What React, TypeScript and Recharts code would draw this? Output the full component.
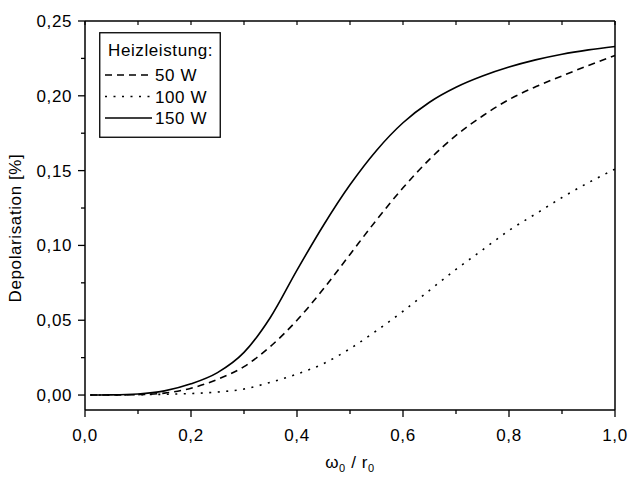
import { LineChart, Line, XAxis, YAxis, Legend } from 'recharts'

const xValues = [0.01, 0.05, 0.1, 0.15, 0.2, 0.25, 0.3, 0.35, 0.4, 0.45, 0.5, 0.55, 0.6, 0.65, 0.7, 0.75, 0.8, 0.85, 0.9, 0.95, 1.0]
const power50 = [0, 0, 0.0003, 0.0013, 0.0045, 0.0105, 0.019, 0.0325, 0.05, 0.071, 0.094, 0.117, 0.1385, 0.1575, 0.1735, 0.1865, 0.1975, 0.206, 0.2133, 0.2203, 0.227]
const power100 = [0, 0, 0.0002, 0.0005, 0.001, 0.002, 0.004, 0.0085, 0.014, 0.021, 0.031, 0.043, 0.056, 0.07, 0.084, 0.097, 0.11, 0.121, 0.132, 0.142, 0.151]
const power150 = [0, 0.0001, 0.0007, 0.0028, 0.0075, 0.015, 0.0285, 0.052, 0.0835, 0.1135, 0.1405, 0.1635, 0.182, 0.1957, 0.2057, 0.2132, 0.2192, 0.224, 0.2278, 0.2307, 0.233]

const xTicks = [0, 0.1, 0.2, 0.3, 0.4, 0.5, 0.6, 0.7, 0.8, 0.9, 1.0]
const yTicks = [0, 0.025, 0.05, 0.075, 0.1, 0.125, 0.15, 0.175, 0.2, 0.225, 0.25]

const legendTitle = 'Heizleistung:'
const series = [
  { key: 'w50', name: '50 W', dash: '7 5' },
  { key: 'w100', name: '100 W', dash: '2 6.5' },
  { key: 'w150', name: '150 W', dash: undefined as string | undefined },
]

const data = xValues.map((x, i) => ({ x, w50: power50[i], w100: power100[i], w150: power150[i] }))

const FONT = '"Liberation Sans", Arial, sans-serif'
const textStyle = { fontFamily: FONT, fontSize: 17, letterSpacing: 0.6, fill: '#000' }

const isMajorX = (v: number) => Math.round(v * 10) % 2 === 0
const isMajorY = (v: number) => Math.round(v * 1000) % 50 === 0

function BottomTick(props: any) {
  const { x, y, payload } = props
  const major = isMajorX(payload.value)
  return (
    <g>
      <line x1={x} x2={x} y1={y} y2={y + (major ? 7 : 4)} stroke="#000" strokeWidth={1.3} />
      {major && (
        <text x={x} y={y + 31} textAnchor="middle" style={textStyle}>
          {payload.value.toFixed(1).replace('.', ',')}
        </text>
      )}
    </g>
  )
}

function TopTick(props: any) {
  const { x, y } = props
  return <line x1={x} x2={x} y1={y} y2={y + 4} stroke="#000" strokeWidth={1.2} />
}

function LeftTick(props: any) {
  const { x, y, payload } = props
  const major = isMajorY(payload.value)
  return (
    <g>
      <line x1={x} x2={x - (major ? 7 : 4)} y1={y} y2={y} stroke="#000" strokeWidth={1.3} />
      {major && (
        <text x={x - 13} y={y + 6} textAnchor="end" style={textStyle}>
          {payload.value.toFixed(2).replace('.', ',')}
        </text>
      )}
    </g>
  )
}

function RightTick(props: any) {
  const { x, y } = props
  return <line x1={x} x2={x - 4} y1={y} y2={y} stroke="#000" strokeWidth={1.2} />
}

function LegendBox() {
  return (
    <svg width={123} height={107} style={{ display: 'block' }}>
      <rect x={0.75} y={0.75} width={120.5} height={104.5} fill="#fff" stroke="#000" strokeWidth={1.3} />
      <text x={9} y={24} style={textStyle}>{legendTitle}</text>
      {series.map((s, i) => {
        const cy = 43 + i * 21.5
        return (
          <g key={s.key}>
            <line x1={6} x2={53} y1={cy} y2={cy} stroke="#000" strokeWidth={1.5} strokeDasharray={s.dash} />
            <text x={56} y={cy + 6} style={textStyle}>{s.name}</text>
          </g>
        )
      })}
    </svg>
  )
}

export default function App() {
  return (
    <div style={{ position: 'absolute', left: 0, top: 0, background: '#fff' }}>
      <LineChart width={629} height={477} data={data} margin={{ top: 20, right: 13, bottom: 66, left: 84 }}>
        <XAxis
          xAxisId="bottom"
          dataKey="x"
          type="number"
          domain={[0, 1]}
          ticks={xTicks}
          interval={0}
          height={1}
          tickSize={0}
          tickMargin={0}
          tickLine={false}
          axisLine={{ stroke: '#000', strokeWidth: 1.5 }}
          tick={<BottomTick />}
          label={() => (
            <text x={350} y={468} textAnchor="middle" style={textStyle}>
              ω<tspan dy={4} fontSize={11}>0</tspan>
              <tspan dy={-4}> / r</tspan>
              <tspan dy={4} fontSize={11}>0</tspan>
            </text>
          )}
        />
        <XAxis
          xAxisId="top"
          orientation="top"
          dataKey="x"
          type="number"
          domain={[0, 1]}
          ticks={xTicks}
          interval={0}
          height={1}
          tickSize={0}
          tickMargin={0}
          tickLine={false}
          axisLine={{ stroke: '#000', strokeWidth: 1.5 }}
          tick={<TopTick />}
        />
        <YAxis
          yAxisId="left"
          type="number"
          domain={[-0.01, 0.25]}
          ticks={yTicks}
          interval={0}
          width={1}
          tickSize={0}
          tickMargin={0}
          tickLine={false}
          axisLine={{ stroke: '#000', strokeWidth: 1.5 }}
          tick={<LeftTick />}
          label={() => (
            <text x={21} y={228} textAnchor="middle" transform="rotate(-90 21 228)" style={textStyle}>
              Depolarisation [%]
            </text>
          )}
        />
        <YAxis
          yAxisId="right"
          orientation="right"
          type="number"
          domain={[-0.01, 0.25]}
          ticks={yTicks}
          interval={0}
          width={1}
          tickSize={0}
          tickMargin={0}
          tickLine={false}
          axisLine={{ stroke: '#000', strokeWidth: 1.5 }}
          tick={<RightTick />}
        />
        <Legend
          layout="horizontal"
          verticalAlign="middle"
          align="center"
          wrapperStyle={{ left: 99, top: 32, width: 123, height: 107 }}
          content={() => <LegendBox />}
        />
        {series.map((s) => (
          <Line
            key={s.key}
            xAxisId="bottom"
            yAxisId="left"
            dataKey={s.key}
            name={s.name}
            type="monotone"
            stroke="#000"
            strokeWidth={1.6}
            strokeDasharray={s.dash}
            dot={false}
            activeDot={false}
            isAnimationActive={false}
          />
        ))}
      </LineChart>
    </div>
  )
}
